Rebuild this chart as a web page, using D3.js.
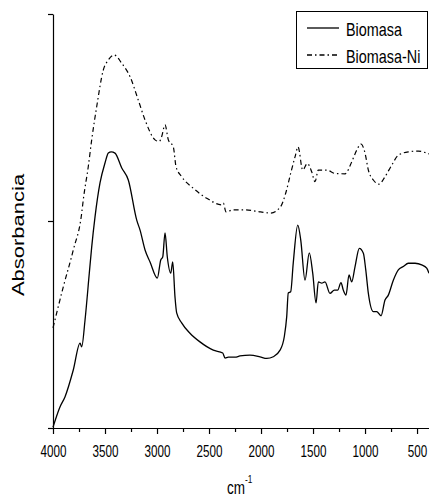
<!DOCTYPE html>
<html>
<head>
<meta charset="utf-8">
<script src="https://cdn.jsdelivr.net/npm/d3@7"></script>
<style>
  body { margin: 0; background: #fff; }
  svg { display: block; }
</style>
</head>
<body>
<div id="chart"></div>
<script>
// wavenumber (cm-1) and absorbance
const biomasaWn = [4000, 3933, 3885, 3805, 3740, 3724, 3692, 3651, 3628, 3596, 3548, 3500, 3468, 3440, 3404,
  3339, 3276, 3195, 3163, 3115, 3067, 2997, 2964, 2945, 2923, 2901, 2868, 2849, 2827, 2811, 2763, 2683,
  2587, 2459, 2368, 2346, 2314, 2250, 2202, 2106, 2010, 1945, 1882, 1817, 1776, 1753, 1738, 1715, 1690,
  1647, 1618, 1577, 1536, 1503, 1471, 1449, 1416, 1385, 1337, 1295, 1263, 1231, 1209, 1183, 1154, 1128,
  1096, 1055, 1016, 993, 968, 920, 888, 846, 808, 776, 728, 680, 632, 584, 519, 455, 407, 385];
const biomasaAbs = [0.002, 0.051, 0.075, 0.140, 0.205, 0.196, 0.261, 0.374, 0.437, 0.510, 0.592, 0.640, 0.664, 0.667, 0.664,
  0.628, 0.599, 0.502, 0.478, 0.430, 0.401, 0.362, 0.406, 0.413, 0.471, 0.413, 0.374, 0.401, 0.316, 0.278, 0.254, 0.229,
  0.208, 0.188, 0.181, 0.169, 0.171, 0.171, 0.174, 0.176, 0.172, 0.168, 0.172, 0.188, 0.221, 0.269, 0.326, 0.329, 0.399,
  0.490, 0.454, 0.357, 0.423, 0.374, 0.302, 0.353, 0.350, 0.353, 0.325, 0.333, 0.333, 0.351, 0.333, 0.321, 0.370, 0.353,
  0.390, 0.434, 0.422, 0.382, 0.325, 0.281, 0.281, 0.271, 0.309, 0.321, 0.357, 0.382, 0.390, 0.398, 0.398, 0.394, 0.386, 0.374];

const niWn = [4000, 3901, 3805, 3724, 3709, 3661, 3628, 3580, 3516, 3468, 3413, 3339, 3260, 3180, 3115,
  3019, 2978, 2955, 2923, 2891, 2843, 2817, 2763, 2651, 2522, 2378, 2362, 2337, 2266, 2170, 2003, 1907,
  1811, 1763, 1715, 1673, 1644, 1599, 1555, 1513, 1481, 1449, 1368, 1289, 1192, 1128, 1080, 1039, 1000,
  968, 920, 866, 808, 743, 680, 584, 488, 407, 385];
const niAbs = [0.242, 0.341, 0.430, 0.519, 0.551, 0.631, 0.696, 0.776, 0.865, 0.889, 0.901, 0.881, 0.849, 0.792, 0.744,
  0.696, 0.692, 0.704, 0.732, 0.696, 0.679, 0.631, 0.607, 0.579, 0.555, 0.539, 0.543, 0.522, 0.527, 0.527, 0.522, 0.519,
  0.535, 0.567, 0.615, 0.655, 0.679, 0.623, 0.639, 0.619, 0.595, 0.623, 0.623, 0.615, 0.614, 0.643, 0.671, 0.686, 0.664,
  0.623, 0.599, 0.589, 0.607, 0.635, 0.659, 0.667, 0.669, 0.664, 0.662];

const xTicks = [4000, 3500, 3000, 2500, 2000, 1500, 1000, 500];
const xMinorTicks = [3750, 3250, 2750, 2250, 1750, 1250, 750];
const yTicks = [0, 0.5, 1];
const seriesNames = ['Biomasa', 'Biomasa-Ni'];

// the original figure is squeezed sideways, so squeeze Liberation Sans too
const font = '"Liberation Sans", Arial, sans-serif';
const squeeze = 'scale(0.73,1)';

const width = 429, height = 500;
const plot = { left: 53, right: 429, top: 14, bottom: 428 };

const svg = d3.select('#chart')
  .append('svg')
    .attr('width', width)
    .attr('height', height);

const x = d3.scaleLinear()
  .domain([4000, 385])
  .range([plot.left, plot.right]);

const y = d3.scaleLinear()
  .domain([0, 1])
  .range([plot.bottom, plot.top]);

// x axis, major + minor ticks
const xAxis = svg.append('g')
  .attr('transform', 'translate(0,' + plot.bottom + ')')
  .call(d3.axisBottom(x).tickValues(xTicks).tickFormat(d3.format('d'))
    .tickSize(6).tickSizeOuter(0).tickPadding(11.5));
xAxis.select('.domain').attr('d', 'M' + (plot.left - 5) + ',0.5H' + plot.right);
xAxis.selectAll('text')
  .style('font-family', font)
  .style('font-size', '16px')
  .attr('fill', '#000')
  .attr('transform', squeeze);

svg.append('g')
  .attr('transform', 'translate(0,' + plot.bottom + ')')
  .call(d3.axisBottom(x).tickValues(xMinorTicks).tickSize(4).tickFormat(''))
  .select('.domain').remove();

// y axis, no labels
svg.append('g')
  .attr('transform', 'translate(' + plot.left + ',0)')
  .call(d3.axisLeft(y).tickValues(yTicks).tickSize(5).tickSizeOuter(0).tickFormat(''));

svg.selectAll('.domain, .tick line').attr('stroke', '#000').attr('stroke-width', 1.2);

// the spectra
const line = d3.line()
  .x(d => x(d[0]))
  .y(d => y(d[1]))
  .curve(d3.curveMonotoneX);

svg.append('path')
  .datum(d3.zip(biomasaWn, biomasaAbs))
  .attr('fill', 'none')
  .attr('stroke', '#000')
  .attr('stroke-width', 1.3)
  .attr('d', line);

svg.append('path')
  .datum(d3.zip(niWn, niAbs))
  .attr('fill', 'none')
  .attr('stroke', '#000')
  .attr('stroke-width', 1.2)
  .attr('stroke-dasharray', '5,3,1.5,3')
  .attr('d', line);

// axis titles
svg.append('text')
  .attr('transform', 'translate(24,235) rotate(-90) scale(1,0.72)')
  .attr('text-anchor', 'middle')
  .style('font-family', font)
  .style('font-size', '22px')
  .text('Absorbancia');

const xt = svg.append('text')
  .attr('transform', 'translate(227,494) scale(0.75,1)')
  .style('font-family', font)
  .style('font-size', '18px')
  .text('cm');
xt.append('tspan')
  .attr('dy', -11)
  .style('font-size', '11px')
  .text('-1');

// legend
const legend = svg.append('g');
legend.append('rect')
  .attr('x', 296.5).attr('y', 11.5)
  .attr('width', 131).attr('height', 57)
  .attr('fill', '#fff').attr('stroke', '#000');

legend.selectAll('line')
  .data(seriesNames)
  .enter()
  .append('line')
    .attr('x1', 307).attr('x2', 339)
    .attr('y1', (d, i) => 28 + i * 27)
    .attr('y2', (d, i) => 28 + i * 27)
    .attr('stroke', '#000')
    .attr('stroke-width', 1.3)
    .attr('stroke-dasharray', (d, i) => i ? '5,3,1.5,3' : null);

legend.selectAll('text')
  .data(seriesNames)
  .enter()
  .append('text')
    .attr('transform', (d, i) => 'translate(346,' + (35.5 + i * 27) + ') scale(0.8,1)')
    .style('font-family', font)
    .style('font-size', '18px')
    .text(d => d);
</script>
</body>
</html>
